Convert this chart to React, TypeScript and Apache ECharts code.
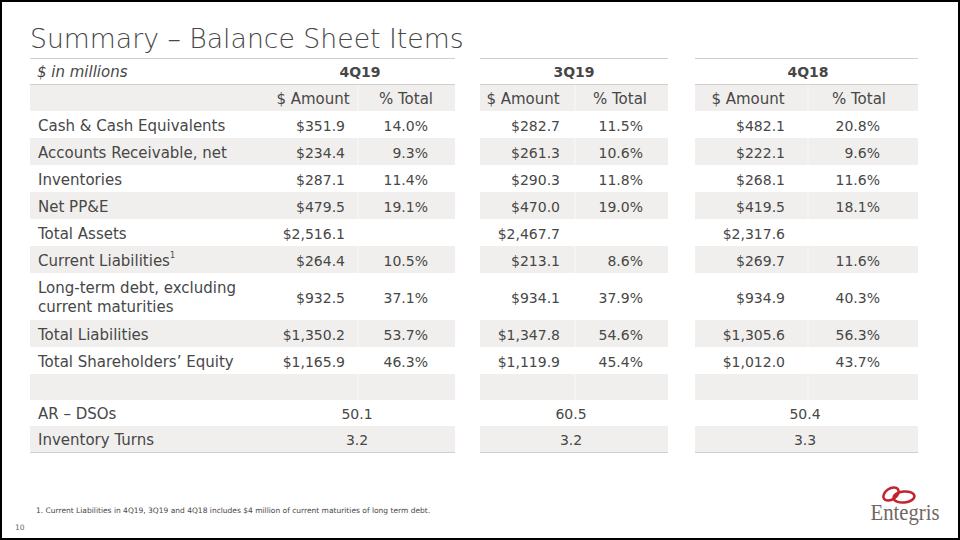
import React, { useEffect, useRef } from "react";
import * as echarts from "echarts";

// ---------- data ----------
const title = "Summary – Balance Sheet Items";
const unitLabel = "$ in millions";
const periods = ["4Q19", "3Q19", "4Q18"];
const subHeaders = ["$ Amount", "% Total"];
const categories = [
  "Cash & Cash Equivalents",
  "Accounts Receivable, net",
  "Inventories",
  "Net PP&E",
  "Total Assets",
  "Current Liabilities",
  "Long-term debt, excluding\ncurrent maturities",
  "Total Liabilities",
  "Total Shareholders’ Equity",
];
const amounts4Q19 = [351.9, 234.4, 287.1, 479.5, 2516.1, 264.4, 932.5, 1350.2, 1165.9];
const pct4Q19 = [14.0, 9.3, 11.4, 19.1, null, 10.5, 37.1, 53.7, 46.3];
const amounts3Q19 = [282.7, 261.3, 290.3, 470.0, 2467.7, 213.1, 934.1, 1347.8, 1119.9];
const pct3Q19 = [11.5, 10.6, 11.8, 19.0, null, 8.6, 37.9, 54.6, 45.4];
const amounts4Q18 = [482.1, 222.1, 268.1, 419.5, 2317.6, 269.7, 934.9, 1305.6, 1012.0];
const pct4Q18 = [20.8, 9.6, 11.6, 18.1, null, 11.6, 40.3, 56.3, 43.7];
const metricLabels = ["AR – DSOs", "Inventory Turns"];
const arDSOs = [50.1, 60.5, 50.4];
const inventoryTurns = [3.2, 3.2, 3.3];
const footnote =
  "1. Current Liabilities in 4Q19, 3Q19 and 4Q18 includes $4 million of current maturities of long term debt.";
const pageNumber = "10";
const footnoteRef = 5; // index of category carrying the footnote mark

// ---------- layout ----------
const FONT = "'DejaVu Sans', sans-serif";
const TEXT = "#474747";
const BAND = "#f1efed";
const RULE = "#d3cec9";
const TABLE_TOP = 58;
const ROW_H = 27;
const TALL_ROW_H = 47;
const LABEL_X = 38;
const FS = 14; // numbers
const FS_LABEL = 15; // labels / headers
const blocks = [
  { x0: 30, x1: 455, amtRight: 345, pctRight: 428, amtCenter: 313, pctCenter: 406, center: 360, divider: 358 },
  { x0: 480, x1: 668, amtRight: 560, pctRight: 643, amtCenter: 523, pctCenter: 620, center: 574, divider: 575 },
  { x0: 695, x1: 918, amtRight: 785, pctRight: 880, amtCenter: 748, pctCenter: 859, center: 808, divider: 808 },
];

const fmtAmt = (v: number) =>
  "$" + v.toLocaleString("en-US", { minimumFractionDigits: 1, maximumFractionDigits: 1 });
const fmtPct = (v: number | null) => (v == null ? "" : v.toFixed(1) + "%");

function buildGraphics() {
  const els: any[] = [];
  const amounts = [amounts4Q19, amounts3Q19, amounts4Q18];
  const pcts = [pct4Q19, pct3Q19, pct4Q18];

  type Row = { kind: string; idx?: number; h: number };
  const rows: Row[] = [];
  rows.push({ kind: "header", h: 26 });
  rows.push({ kind: "sub", h: ROW_H });
  categories.forEach((c, i) => rows.push({ kind: "cat", idx: i, h: c.includes("\n") ? TALL_ROW_H : ROW_H }));
  rows.push({ kind: "blank", h: 26 });
  metricLabels.forEach((m, i) => rows.push({ kind: "metric", idx: i, h: 26 }));

  let y = TABLE_TOP;
  const rowPos = rows.map((r) => {
    const p = { y0: y, y1: y + r.h };
    y += r.h;
    return p;
  });
  const tableBottom = y;

  rows.forEach((r, i) => {
    if (i % 2 === 1) {
      blocks.forEach((b) => {
        els.push({
          type: "rect",
          shape: { x: b.x0, y: rowPos[i].y0, width: b.x1 - b.x0, height: rowPos[i].y1 - rowPos[i].y0 },
          style: { fill: BAND },
          silent: true,
        });
        if (r.kind !== "metric") {
          els.push({
            type: "line",
            shape: { x1: b.divider, y1: rowPos[i].y0, x2: b.divider, y2: rowPos[i].y1 },
            style: { stroke: "#ffffff", lineWidth: 1, opacity: 0.6 },
            silent: true,
          });
        }
      });
    }
  });

  [TABLE_TOP, rowPos[0].y1, tableBottom].forEach((ly) => {
    blocks.forEach((b) => {
      els.push({
        type: "line",
        shape: { x1: b.x0, y1: ly + 0.5, x2: b.x1, y2: ly + 0.5 },
        style: { stroke: RULE, lineWidth: 1 },
        silent: true,
      });
    });
  });

  const txt = (text: string, x: number, yy: number, align: string, extra: any = {}) =>
    els.push({
      type: "text",
      x,
      y: yy,
      style: {
        text,
        fill: TEXT,
        fontFamily: FONT,
        fontSize: FS,
        align,
        verticalAlign: "middle",
        ...extra,
      },
      silent: true,
    });

  rows.forEach((r, i) => {
    const cy = (rowPos[i].y0 + rowPos[i].y1) / 2 + 1;
    if (r.kind === "header") {
      txt(unitLabel, LABEL_X - 1, cy, "left", { fontStyle: "italic", fontSize: FS_LABEL });
      blocks.forEach((b, k) => txt(periods[k], b.center, cy, "center", { fontWeight: "bold" }));
    } else if (r.kind === "sub") {
      blocks.forEach((b) => {
        txt(subHeaders[0], b.amtCenter, cy, "center", { fontSize: FS_LABEL });
        txt(subHeaders[1], b.pctCenter, cy, "center", { fontSize: FS_LABEL });
      });
    } else if (r.kind === "cat") {
      const ci = r.idx as number;
      if (ci === footnoteRef) {
        els.push({
          type: "text",
          x: LABEL_X,
          y: cy,
          style: {
            text: categories[ci] + "{sup|1}",
            fill: TEXT,
            fontFamily: FONT,
            fontSize: FS_LABEL,
            align: "left",
            verticalAlign: "middle",
            lineHeight: 18,
            rich: { sup: { fontSize: 8, fontFamily: FONT, fill: TEXT, verticalAlign: "top", lineHeight: 18 } },
          },
          silent: true,
        });
      } else if (categories[ci].includes("\n")) {
        const parts = categories[ci].split("\n");
        txt(parts[0], LABEL_X, cy - 9.5, "left", { fontSize: FS_LABEL });
        txt(parts[1], LABEL_X, cy + 9.5, "left", { fontSize: FS_LABEL });
      } else {
        txt(categories[ci], LABEL_X, cy, "left", { fontSize: FS_LABEL });
      }
      blocks.forEach((b, k) => {
        txt(fmtAmt(amounts[k][ci]), b.amtRight, cy, "right");
        const p = fmtPct(pcts[k][ci]);
        if (p) txt(p, b.pctRight, cy, "right");
      });
    } else if (r.kind === "metric") {
      const mi = r.idx as number;
      txt(metricLabels[mi], LABEL_X, cy, "left", { fontSize: FS_LABEL });
      const vals = mi === 0 ? arDSOs : inventoryTurns;
      blocks.forEach((b, k) => txt(vals[k].toFixed(1), b.center - 3, cy, "center"));
    }
  });

  els.push({
    type: "text",
    x: 30,
    y: 38,
    style: {
      text: title,
      fill: TEXT,
      fontFamily: FONT,
      fontSize: 26.7,
      fontWeight: 200,
      align: "left",
      verticalAlign: "middle",
    },
    silent: true,
  });
  els.push({
    type: "text",
    x: 36,
    y: 510,
    style: { text: footnote, fill: TEXT, fontFamily: FONT, fontSize: 7.5, align: "left", verticalAlign: "middle" },
    silent: true,
  });
  els.push({
    type: "text",
    x: 15,
    y: 527,
    style: { text: pageNumber, fill: "#666", fontFamily: FONT, fontSize: 7.5, align: "left", verticalAlign: "middle" },
    silent: true,
  });

  // logo
  els.push({
    type: "ellipse",
    shape: { cx: 0, cy: 0, rx: 8.5, ry: 5.5 },
    x: 891,
    y: 494,
    rotation: 0.6,
    style: { fill: "none", stroke: "#c3232b", lineWidth: 2.5 },
    silent: true,
  });
  els.push({
    type: "ellipse",
    shape: { cx: 0, cy: 0, rx: 10.5, ry: 5.5 },
    x: 904,
    y: 497,
    rotation: 0.1,
    style: { fill: "none", stroke: "#c3232b", lineWidth: 2.5 },
    silent: true,
  });
  els.push({
    type: "text",
    x: 905,
    y: 513,
    scaleX: 0.9,
    style: {
      text: "Entegris",
      fill: "#6f6864",
      fontFamily: "'Liberation Serif', serif",
      fontSize: 23,
      align: "center",
      verticalAlign: "middle",
    },
    silent: true,
  });

  els.push({
    type: "rect",
    shape: { x: 1, y: 1, width: 958, height: 538 },
    style: { fill: "none", stroke: "#000", lineWidth: 2 },
    silent: true,
  });

  return els;
}

export default function App() {
  const ref = useRef<HTMLDivElement>(null);
  useEffect(() => {
    if (!ref.current) return;
    const chart = echarts.init(ref.current, null, { renderer: "svg" });
    chart.setOption({
      animation: false,
      backgroundColor: "#ffffff",
      graphic: { elements: buildGraphics() },
    });
    return () => chart.dispose();
  }, []);
  return (
    <div
      ref={ref}
      style={{ position: "fixed", left: 0, top: 0, width: 960, height: 540, background: "#fff" }}
    />
  );
}
